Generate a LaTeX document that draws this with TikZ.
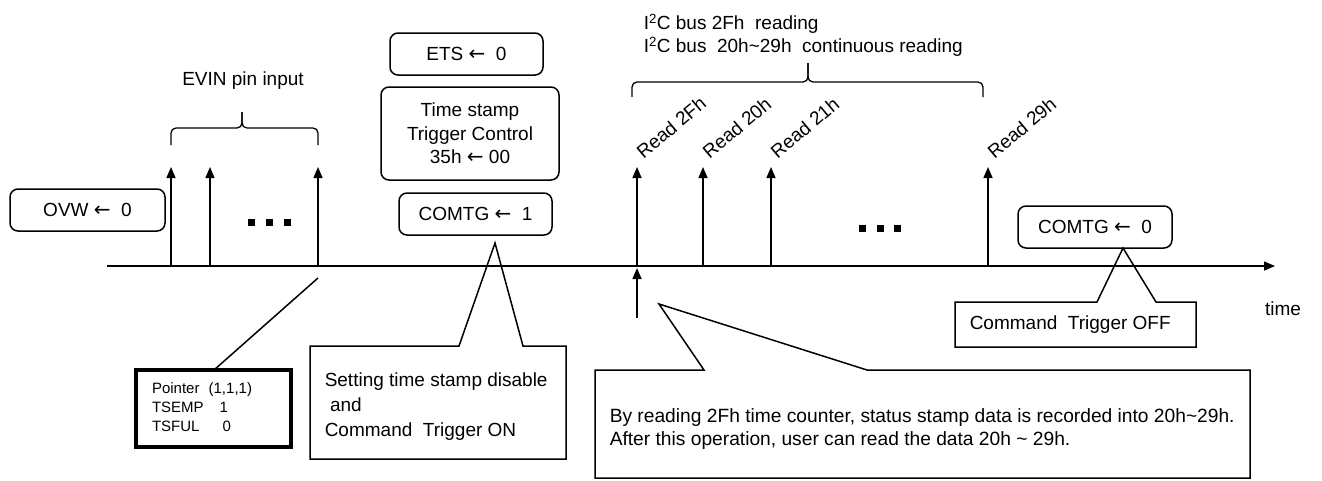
\documentclass[tikz,border=0pt]{standalone}
\usepackage{fontspec}
\setmainfont{Liberation Sans}
\newfontfamily\arrowfont{DejaVu Sans}
\newcommand{\getsarrow}{{\arrowfont\fontsize{20}{20}\selectfont ←}}
\usetikzlibrary{arrows.meta}

\begin{document}
\begin{tikzpicture}[x=1pt,y=-1pt,line width=1.5pt,
  every node/.style={font=\fontsize{19}{23.5}\selectfont,inner sep=0pt},
  regbox/.style={draw,rounded corners=8pt,minimum height=42pt},
  evt/.style={-{Triangle[length=11pt,width=9pt]}},
  busbrace/.style={rounded corners=5pt,line width=1.3pt}]

% Frame of the picture
\useasboundingbox (0,0) rectangle (1322,480);

% Time axis
\def\ty{266}
\coordinate (t0) at (107,\ty);
\coordinate (tend) at (1275,\ty);
\draw[evt] (t0) -- (tend);
\node (time) at (1283,309) {time};

% EVIN pin pulses
\foreach \x [count=\i] in {171,210,318}{
  \coordinate (ev\i) at (\x,\ty);
  \draw[evt] (ev\i) -- ++(0,-99);
}
\foreach \x in {251,269,287}
  \fill (\x-3.5,218.5) rectangle ++(7,7);

% Brace over the pulses
\draw[busbrace] (171,145) |- (242,128) -- (242,112);
\draw[busbrace] (242,112) -- (242,128) -| (318,145);
\node (evin) at (243,81) {EVIN pin input};

% Register settings
\node[regbox,minimum width=155pt] (ovw) at (87.5,210) {OVW \getsarrow\ \ 0};
\node[regbox,minimum width=153pt] (ets) at (466.5,54) {ETS \getsarrow\ \ 0};
\node[regbox,minimum width=178pt,minimum height=93pt,align=center] (tsc) at (470,133.5)
  {Time stamp\\Trigger Control\\35h \getsarrow\ 00};
\node[regbox,minimum width=153pt] (comtgon) at (475.5,214) {COMTG \getsarrow\ \ 1};
\node[regbox,minimum width=154pt] (comtgoff) at (1095,227) {COMTG \getsarrow\ \ 0};

% I2C reads
\foreach \x/\lbl [count=\i] in {637/2Fh,703/20h,771/21h,988/29h}{
  \coordinate (rd\i) at (\x,\ty);
  \draw[evt] (rd\i) -- ++(0,-99);
  \node[rotate=40,anchor=base west] (rdl\i) at (\x+6,160) {Read \lbl};
}
\foreach \x in {862,880,897}
  \fill (\x-3.5,224.5) rectangle ++(7,7);
\coordinate (rdin) at (637,318);
\draw[evt] (rdin) -- (637,268);

% Brace over the reads
\draw[busbrace] (632,97) |- (808,82) -- (808,63);
\draw[busbrace] (808,63) -- (808,82) -| (983,97);
\node[anchor=north west,align=left] (i2c) at (643,13)
  {I\textsuperscript{2}C bus 2Fh\ \ reading\\[-0.5pt]
   I\textsuperscript{2}C bus\ \ 20h\textasciitilde29h\ \ continuous reading};

% Pointer state after the last pulse
\node[draw,line width=4pt,anchor=west,text width=123pt,inner xsep=16pt,
  minimum height=77pt,font=\fontsize{15}{19}\selectfont] (ptr) at (134,408.5)
  {\begin{tabular}{@{}l@{\hspace{5pt}}l@{}}
   Pointer & (1,1,1)\\ TSEMP & \hspace{11pt}1\\ TSFUL & \hspace{14pt}0
   \end{tabular}};
\coordinate (ptrtip) at (318,278);
\draw (ptrtip) -- (214,370);

% Callout: trigger on
\draw (310,346) -- (459,346) -- (495,243) -- (523,346) -- (566,346)
  -- (566,459) -- (310,459) -- cycle;
\node[anchor=north west,align=left,font=\fontsize{19}{25}\selectfont] (seton) at (324,372)
  {Setting time stamp disable\\\ and\\Command\ \ Trigger ON};

% Callout: reading 2Fh
\draw (595,370) -- (704,370) -- (659,304) -- (867,370) -- (1250,370)
  -- (1250,478) -- (595,478) -- cycle;
\node[anchor=north west,align=left,font=\fontsize{19.2}{23}\selectfont] (note) at (609,408)
  {By reading 2Fh time counter, status stamp data is recorded into 20h\textasciitilde29h.\\
   After this operation, user can read the data 20h \textasciitilde\ 29h.};

% Callout: trigger off
\draw (955,302) -- (1097,302) -- (1123,248) -- (1156,302) -- (1196,302)
  -- (1196,347) -- (955,347) -- cycle;
\node[anchor=west] (setoff) at (969,325) {Command\ \ Trigger OFF};

\end{tikzpicture}
\end{document}
